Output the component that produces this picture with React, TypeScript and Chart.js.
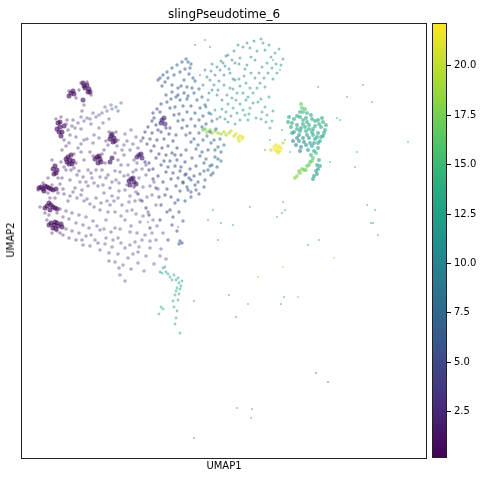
import React, { useEffect, useRef } from 'react';
import { Chart, registerables } from 'chart.js';

Chart.register(...registerables);

// UMAP1 / UMAP2 coordinates (arbitrary embedding units) and slingPseudotime_6 value
type Cell = [number, number, number];

const VMIN = 0.16;
const VMAX = 22.16;
const colorbarTicks = [2.5, 5.0, 7.5, 10.0, 12.5, 15.0, 17.5, 20.0];

// dense purple cores of the left fan
const purpleCores: Cell[] = [
  [50, 366, 1.2], [53, 365, 1.2], [63, 373, 1.0], [64, 371, 1.0], [68, 370, 1.2], [67, 367, 1.2], [62, 359, 1.8],
  [48, 363, 1.2], [52, 368, 1.2], [62, 376, 1.0], [66, 374, 1.0], [69, 367, 1.3],
  [37, 336, 1.0], [39, 332, 1.0], [38, 327, 1.0], [40, 323, 1.0], [43, 333, 1.5], [36, 330, 1.0], [41, 327, 1.0], [39, 337, 1.0],
  [47, 302, 0.8], [49, 299, 0.8], [51, 295, 1.0], [46, 297, 1.0], [45, 300, 0.9], [50, 304, 0.9], [52, 298, 1.0], [48, 295, 1.0],
  [34, 293, 0.9], [36, 289, 1.0], [33, 285, 1.0], [32, 290, 0.9], [35, 286, 1.0],
  [20, 272, 0.8], [24, 273, 0.8], [28, 271, 0.9], [23, 268, 0.9], [32, 269, 1.2],
  [18, 271, 0.8], [22, 270, 0.8], [26, 272, 0.9], [30, 270, 1.0], [35, 270, 1.2],
  [26, 253, 0.8], [30, 254, 0.8], [34, 251, 1.0], [29, 249, 1.0], [24, 251, 0.8], [28, 256, 0.8], [32, 252, 0.9], [36, 250, 1.1],
  [30, 236, 0.8], [34, 237, 0.8], [37, 233, 0.9], [32, 231, 0.9], [41, 232, 1.2],
  [28, 234, 0.8], [33, 234, 0.8], [36, 236, 0.9], [35, 230, 1.0], [40, 235, 1.1],
  [76, 302, 1.0], [79, 300, 1.0], [77, 296, 1.2], [74, 300, 1.0], [78, 303, 1.0], [80, 297, 1.2],
  [90, 323, 1.2], [93, 321, 1.2], [92, 317, 1.4], [91, 301, 1.5], [89, 297, 1.6], [89, 320, 1.2], [91, 325, 1.2], [94, 318, 1.3],
  [118, 304, 2.0], [121, 301, 2.2], [116, 302, 2.0], [120, 305, 2.0],
  [110, 280, 1.5], [113, 277, 1.5], [109, 274, 1.8], [108, 278, 1.5], [112, 281, 1.5], [115, 275, 1.8],
  [141, 339, 3.0], [144, 335, 3.2], [140, 336, 3.0], [143, 341, 3.0],
];

// diffuse purple body of the fan
const purpleBody: Cell[] = [
  [45, 335, 2.0], [51, 333, 2.5], [57, 336, 3.0], [63, 338, 3.5], [69, 340, 4.0], [75, 342, 4.5], [81, 346, 5.0],
  [86, 348, 5.0], [91, 350, 5.5], [95, 352, 5.5], [78, 344, 4.5], [66, 341, 4.0], [54, 331, 2.5], [47, 329, 2.0],
  [43, 319, 2.0], [49, 324, 2.5], [57, 311, 2.5], [60, 307, 2.5],
  [53, 291, 2.0], [56, 284, 2.0], [59, 277, 2.5], [45, 289, 2.0], [41, 281, 2.0], [37, 281, 2.0], [39, 275, 2.0],
  [37, 266, 2.0], [43, 265, 2.0], [49, 263, 2.5], [56, 261, 2.5], [63, 258, 2.5], [69, 255, 3.0],
  [39, 250, 2.0], [45, 248, 2.0], [51, 246, 2.5], [58, 244, 2.5], [65, 242, 3.0], [72, 238, 3.0],
  [45, 230, 2.0], [51, 228, 2.5], [58, 226, 2.5], [65, 223, 3.0], [39, 226, 1.8], [31, 226, 1.5],
  [49, 279, 2.2], [54, 271, 2.2], [61, 269, 2.5], [67, 273, 2.5], [71, 281, 2.5], [75, 289, 2.5], [67, 289, 2.2],
  [63, 299, 2.2], [69, 307, 2.5], [81, 289, 2.5], [85, 281, 2.5], [77, 273, 2.8], [83, 266, 2.8], [89, 271, 2.8],
  [95, 279, 2.8], [99, 287, 2.8], [97, 299, 2.5], [101, 309, 2.8], [107, 294, 3.0], [104, 269, 3.0], [97, 261, 3.0],
  [89, 254, 3.0], [79, 249, 3.0], [75, 261, 2.8], [85, 239, 3.2], [94, 247, 3.2], [101, 254, 3.2], [109, 263, 3.2],
  [115, 267, 3.2], [119, 259, 3.5], [111, 249, 3.5], [104, 239, 3.5], [94, 231, 3.2], [79, 229, 3.0], [74, 219, 3.2],
  [85, 221, 3.2], [97, 221, 3.5], [109, 227, 3.5], [119, 237, 3.8], [127, 247, 3.8], [124, 224, 3.8], [114, 217, 3.5],
  [104, 211, 3.5], [91, 212, 3.2], [79, 209, 3.2], [69, 213, 3.0], [61, 219, 3.0], [117, 207, 3.8], [129, 211, 4.0],
  [135, 219, 4.0], [139, 203, 4.2], [107, 201, 3.5], [99, 184, 3.8], [102, 194, 3.8], [125, 203, 4.0],
  [83, 309, 2.0], [87, 314, 2.2], [97, 319, 2.5], [103, 314, 3.0], [109, 309, 3.0], [113, 299, 2.5], [115, 289, 2.8],
  [107, 284, 2.8], [125, 284, 3.0], [129, 273, 3.5], [131, 264, 3.5], [135, 254, 4.0], [125, 294, 3.0],
  [17, 269, 1.5], [19, 252, 1.5], [26, 239, 1.5], [29, 261, 1.8], [34, 261, 2.0], [27, 281, 2.0], [31, 299, 2.0],
  [41, 309, 2.0], [45, 313, 2.0], [73, 324, 3.0], [63, 319, 3.0], [78, 331, 4.0],
  [22, 276, 1.5], [27, 266, 1.8], [31, 274, 1.6], [42, 270, 2.0], [47, 258, 2.3], [52, 267, 2.3], [60, 264, 2.5],
  [66, 260, 2.7], [73, 252, 2.8], [80, 256, 3.0], [87, 247, 3.0], [93, 258, 3.0], [100, 243, 3.3], [106, 248, 3.4],
  [24, 246, 1.6], [28, 244, 1.8], [36, 246, 2.0], [42, 242, 2.2], [48, 240, 2.4], [55, 236, 2.6], [62, 234, 2.8],
  [68, 231, 3.0], [76, 233, 3.0], [83, 230, 3.2], [90, 227, 3.2], [99, 230, 3.4], [110, 233, 3.5], [116, 226, 3.6],
  [36, 228, 1.6], [42, 224, 1.9], [48, 221, 2.2], [55, 219, 2.5], [62, 214, 2.8], [70, 224, 3.0], [77, 216, 3.0],
  [84, 215, 3.2], [92, 219, 3.3], [100, 216, 3.4], [109, 214, 3.6], [118, 212, 3.8], [97, 205, 3.6], [88, 206, 3.4],
  [112, 205, 3.8], [121, 219, 3.8], [131, 226, 4.0], [136, 233, 4.0], [142, 226, 4.2], [132, 239, 4.0], [122, 243, 3.8],
  [115, 245, 3.6],
  [40, 297, 1.5], [43, 292, 1.8], [50, 289, 2.0], [55, 296, 2.0], [58, 288, 2.2], [62, 282, 2.3], [65, 277, 2.5],
  [70, 286, 2.5], [73, 276, 2.6], [79, 282, 2.7], [82, 274, 2.8], [87, 284, 2.8], [91, 277, 2.9], [94, 288, 2.8],
  [98, 276, 3.0], [103, 283, 3.0], [100, 294, 2.8], [106, 274, 3.2], [112, 287, 3.2], [118, 281, 3.3], [121, 290, 3.4],
  [116, 296, 3.0], [122, 272, 3.5], [126, 262, 3.6], [133, 277, 3.5], [137, 270, 3.8], [108, 257, 3.4], [114, 258, 3.4],
  [98, 268, 3.1], [91, 263, 3.0], [86, 258, 3.0],
  [72, 303, 1.8], [81, 305, 1.8], [84, 296, 2.0], [85, 318, 2.1], [88, 327, 1.6], [95, 327, 1.8], [96, 313, 2.2],
  [94, 306, 2.3], [103, 304, 2.5], [106, 318, 2.8], [112, 315, 3.0], [117, 311, 3.0], [120, 318, 3.2], [115, 322, 3.2],
  [110, 329, 3.5], [104, 325, 3.3],
  [35, 340, 1.2], [40, 342, 1.3], [46, 339, 1.8], [52, 339, 2.5], [60, 342, 3.2], [72, 346, 4.2], [84, 352, 4.8],
  [90, 354, 5.0], [100, 356, 5.5], [97, 348, 5.2], [70, 335, 3.3], [60, 330, 2.5], [55, 322, 2.5], [48, 316, 2.2],
  [53, 305, 2.2], [60, 315, 2.5], [66, 320, 2.8], [72, 316, 2.8], [78, 321, 3.0], [82, 336, 3.5], [88, 340, 3.8],
  [58, 369, 1.5], [60, 376, 1.2], [66, 377, 1.2], [70, 364, 1.5], [63, 354, 2.0], [55, 361, 1.6], [48, 368, 1.3],
  [61, 348, 2.2],
  [110, 190, 3.8], [117, 196, 3.8], [123, 188, 4.0], [104, 178, 3.8], [98, 191, 3.6], [94, 197, 3.5], [133, 195, 4.2],
  [140, 210, 4.2], [145, 200, 4.4], [129, 218, 4.0], [88, 198, 3.4],
];

// radial blue streaks and the loop at their top
const blueStreaks: Cell[] = [
  [127, 332, 4.5], [131, 326, 4.5], [136, 319, 5.0], [141, 311, 5.0], [145, 304, 5.0], [149, 298, 5.5], [154, 293, 5.5],
  [159, 288, 6.0], [164, 284, 6.0], [168, 281, 6.0],
  [122, 321, 4.0], [126, 315, 4.5], [130, 308, 4.5], [135, 301, 5.0], [140, 294, 5.0], [145, 287, 5.0], [150, 280, 5.5],
  [155, 273, 5.5], [159, 268, 5.5],
  [124, 297, 3.0], [128, 289, 3.5], [132, 280, 4.0], [135, 271, 4.0], [138, 262, 4.5], [140, 254, 4.5],
  [113, 272, 2.5], [117, 265, 3.0], [121, 258, 3.5], [125, 251, 3.5], [128, 244, 4.0],
  [145, 331, 3.5], [148, 325, 4.0], [152, 318, 4.5], [156, 311, 4.5], [160, 304, 5.0], [164, 297, 5.0], [169, 290, 5.5],
  [173, 283, 5.5], [177, 277, 6.0],
  [146, 357, 6.0], [149, 351, 6.0], [153, 344, 6.0], [157, 338, 6.0], [161, 331, 6.5], [165, 324, 6.5], [170, 317, 6.5],
  [175, 310, 6.5], [179, 303, 7.0], [183, 296, 7.0], [187, 289, 7.0],
  [159, 359, 6.0], [162, 353, 6.0], [166, 347, 6.5], [170, 340, 6.5], [174, 333, 6.5], [178, 326, 7.0], [182, 319, 7.0],
  [171, 371, 6.5], [173, 366, 6.5], [176, 359, 7.0], [179, 351, 7.0], [182, 343, 7.0], [185, 335, 7.0], [189, 327, 7.5],
  [193, 319, 7.5], [197, 312, 7.5], [200, 307, 7.5],
  [139, 381, 6.5], [142, 384, 6.5], [146, 387, 6.5], [151, 391, 7.0], [156, 394, 7.0], [161, 397, 7.0], [165, 400, 7.0],
  [167, 397, 7.0], [169, 391, 7.0], [168, 385, 7.0], [137, 379, 6.0], [144, 377, 6.5], [151, 374, 6.5], [157, 371, 6.5],
  [163, 379, 7.0],
  [139, 347, 5.0], [149, 331, 5.0], [155, 324, 5.5], [165, 309, 6.0], [171, 301, 6.0], [175, 293, 6.0], [167, 269, 6.0],
  [157, 259, 5.5], [149, 249, 5.0], [139, 239, 4.5], [151, 234, 5.5], [144, 264, 5.0], [175, 269, 6.5], [184, 279, 7.0],
  [191, 294, 7.0], [187, 309, 7.0], [194, 302, 7.5], [157, 364, 6.0], [151, 367, 6.0], [167, 363, 6.5], [133, 341, 5.0],
  [137, 329, 5.0], [154, 304, 5.5], [162, 277, 6.0], [147, 219, 5.0], [129, 231, 4.5],
  [159, 218, 6.0], [161, 216, 6.0], [158, 215, 6.0],
  [124, 327, 4.2], [129, 320, 4.5], [133, 313, 4.6], [138, 305, 4.8], [143, 298, 5.0], [147, 292, 5.2], [152, 286, 5.4],
  [157, 281, 5.6], [162, 276, 5.8], [166, 272, 6.0], [170, 267, 6.2],
  [131, 338, 4.8], [135, 334, 5.0], [140, 327, 5.0], [143, 320, 5.2], [147, 313, 5.3], [151, 306, 5.5], [156, 299, 5.6],
  [160, 292, 5.8], [165, 285, 6.0], [170, 279, 6.2], [174, 274, 6.4],
  [150, 360, 6.0], [154, 352, 6.0], [158, 345, 6.2], [162, 339, 6.2], [166, 333, 6.4], [169, 326, 6.5], [173, 320, 6.6],
  [177, 314, 6.8], [181, 307, 7.0], [185, 300, 7.0], [189, 293, 7.2], [192, 286, 7.2],
  [163, 366, 6.3], [166, 360, 6.3], [170, 353, 6.6], [174, 346, 6.6], [178, 339, 6.8], [181, 332, 7.0], [186, 323, 7.2],
  [190, 316, 7.3], [194, 309, 7.5], [197, 300, 7.5],
  [174, 378, 6.8], [178, 370, 7.0], [181, 362, 7.0], [184, 354, 7.2], [188, 346, 7.3], [191, 338, 7.5], [195, 330, 7.6],
  [199, 320, 7.8], [203, 314, 8.0],
  [141, 373, 6.2], [147, 381, 6.4], [153, 384, 6.6], [159, 387, 6.8], [164, 390, 7.0], [170, 395, 7.2], [160, 373, 6.6],
  [166, 372, 6.8], [172, 381, 7.0], [155, 362, 6.3], [145, 364, 6.0], [140, 355, 5.6], [136, 350, 5.3], [132, 346, 5.0],
  [128, 296, 4.4], [132, 290, 4.6], [137, 283, 4.8], [142, 277, 5.0], [146, 270, 5.2], [150, 262, 5.4], [154, 256, 5.5],
  [146, 247, 5.2], [152, 242, 5.4], [158, 247, 5.8], [164, 258, 6.0], [170, 262, 6.2], [178, 265, 6.5], [183, 272, 6.8],
  [156, 228, 5.6], [162, 238, 5.8],
  [200, 298, 7.6], [196, 292, 7.4], [190, 284, 7.2], [183, 288, 7.0], [179, 285, 6.8],
];

// teal cloud above the streaks
const tealCloud: Cell[] = [
  [189, 379, 9.0], [194, 384, 9.5], [199, 389, 9.5], [204, 393, 10.0], [209, 386, 10.0], [214, 379, 10.0], [219, 373, 10.0],
  [216, 366, 10.5], [211, 361, 10.0], [207, 355, 10.0], [201, 359, 9.5], [196, 364, 9.5], [191, 369, 9.0], [187, 359, 9.0],
  [194, 349, 10.0], [199, 342, 10.5], [205, 347, 10.5], [212, 351, 11.0], [219, 355, 11.0], [225, 359, 11.0],
  [229, 351, 11.5], [224, 344, 11.5], [219, 339, 12.0], [214, 335, 12.0], [207, 337, 11.0], [227, 339, 12.0],
  [232, 366, 10.5], [236, 371, 10.5], [239, 376, 10.5], [243, 381, 10.5], [247, 386, 10.5], [251, 391, 11.0],
  [255, 395, 11.0], [229, 371, 10.0], [223, 383, 10.0], [226, 394, 10.5], [219, 401, 10.0], [211, 399, 9.5],
  [205, 403, 9.5], [191, 395, 9.0], [184, 389, 8.5], [182, 374, 8.5], [222, 412, 10.0], [229, 411, 10.5],
  [242, 416, 10.5], [244, 409, 10.5], [202, 396, 10.0], [234, 399, 10.5], [237, 357, 11.0], [241, 347, 11.5],
  [235, 341, 11.5], [245, 337, 12.0], [249, 331, 12.0], [209, 371, 10.0], [203, 374, 9.5], [197, 369, 9.5],
  [215, 359, 10.5],
  [186, 382, 8.8], [190, 388, 9.0], [196, 392, 9.3], [200, 398, 9.6], [207, 404, 9.8], [213, 408, 10.0], [218, 395, 10.0],
  [224, 390, 10.2], [230, 386, 10.3], [234, 381, 10.4], [238, 386, 10.5], [241, 392, 10.6], [246, 396, 10.8],
  [250, 402, 11.0], [254, 406, 11.0], [248, 414, 10.8], [236, 408, 10.5], [230, 402, 10.4], [214, 396, 10.0],
  [208, 390, 9.8], [203, 384, 9.6], [198, 378, 9.4], [193, 374, 9.2], [188, 366, 9.0], [185, 352, 9.2], [190, 345, 9.6],
  [196, 340, 10.0], [201, 350, 10.0], [206, 364, 9.8], [212, 370, 10.0], [218, 380, 10.2], [225, 376, 10.3],
  [222, 366, 10.4], [227, 362, 10.6], [232, 356, 10.8], [228, 345, 11.2], [222, 349, 11.0], [216, 346, 10.8],
  [210, 343, 10.6], [204, 340, 10.6], [240, 360, 11.0], [244, 352, 11.3], [240, 340, 11.6], [246, 344, 11.8],
  [251, 338, 12.0], [252, 348, 11.6], [248, 362, 11.2], [244, 372, 10.8], [252, 380, 10.8], [256, 386, 11.0],
  [260, 394, 11.2], [262, 400, 11.3], [258, 410, 11.0], [240, 420, 10.4], [233, 418, 10.3], [226, 416, 10.2],
  [217, 414, 10.0], [212, 380, 10.0],
];

// yellow-green streak and the yellow clump
const yellowCells: Cell[] = [
  [182, 329, 17.0], [186, 327, 18.0], [191, 326, 18.5], [197, 326, 19.0], [203, 327, 19.5], [208, 326, 20.0],
  [213, 323, 20.5], [217, 321, 21.0], [221, 320, 21.5], [219, 323, 21.0],
  [184, 330, 17.5], [189, 329, 18.0], [194, 328, 18.5], [200, 325, 19.0], [205, 324, 19.5], [210, 328, 20.0],
  [215, 325, 20.5], [218, 318, 21.0], [222, 322, 21.5],
  [255, 314, 21.5], [257, 311, 22.0], [259, 308, 21.5], [256, 308, 21.5], [262, 316, 20.0], [250, 309, 20.0],
  [253, 312, 21.5], [258, 313, 22.0], [254, 309, 21.8], [260, 311, 21.6], [257, 306, 21.5],
];

// separate cluster on the right
const rightCluster: Cell[] = [
  [267, 337, 13.0], [273, 340, 13.0], [279, 342, 13.0], [285, 341, 13.0], [291, 340, 13.0], [297, 339, 13.0],
  [302, 337, 13.5], [270, 332, 13.0], [276, 334, 12.5], [282, 335, 13.0], [288, 334, 13.0], [294, 333, 13.0],
  [300, 332, 13.0], [304, 329, 13.0], [273, 327, 12.5], [279, 328, 12.5], [285, 328, 13.0], [291, 327, 13.0],
  [297, 326, 13.0], [302, 323, 13.0], [276, 321, 10.0], [282, 321, 11.0], [288, 321, 12.0], [294, 320, 13.0],
  [299, 318, 13.0], [275, 314, 9.0], [280, 312, 9.5], [285, 314, 10.5], [291, 313, 12.0], [297, 311, 13.0],
  [281, 351, 16.0], [282, 347, 15.0], [280, 355, 16.5],
  [295, 306, 15.0], [292, 301, 16.0], [289, 297, 16.5], [286, 293, 17.0], [283, 289, 17.0], [279, 286, 17.5],
  [276, 283, 18.0],
  [296, 294, 12.5], [295, 288, 12.5], [293, 283, 12.0], [298, 299, 13.0],
  [268, 342, 13.0], [271, 336, 13.0], [276, 343, 13.0], [282, 339, 13.2], [286, 337, 13.0], [290, 344, 13.0],
  [294, 338, 13.2], [298, 335, 13.3], [301, 341, 13.2], [305, 334, 13.3], [303, 326, 13.2], [300, 322, 13.2],
  [296, 322, 13.0], [292, 330, 13.0], [288, 330, 13.0], [284, 332, 13.0], [280, 331, 12.8], [276, 330, 12.6],
  [271, 326, 12.5], [278, 324, 11.5], [286, 324, 12.2], [292, 324, 12.8], [297, 316, 13.0], [293, 316, 12.6],
  [289, 316, 12.0], [283, 317, 10.8], [278, 318, 9.8], [272, 318, 9.2], [279, 308, 9.2], [287, 309, 11.5],
  [293, 308, 13.0], [290, 304, 14.0], [284, 350, 15.5], [279, 347, 14.5], [286, 346, 14.0], [291, 298, 16.5],
  [288, 294, 16.8], [285, 289, 17.2], [281, 290, 17.2], [278, 288, 17.6], [274, 281, 18.2], [299, 293, 12.5],
  [297, 290, 12.6], [296, 285, 12.3], [292, 280, 12.0],
];

// small teal group below the fan
const lowerTeal: Cell[] = [
  [142, 191, 12.5], [145, 187, 12.5], [139, 187, 13.0], [149, 182, 12.5], [155, 179, 12.0], [158, 176, 12.0],
  [160, 173, 12.5], [156, 171, 12.5], [154, 164, 13.0], [157, 159, 12.5], [153, 152, 13.0], [155, 141, 13.0],
  [159, 126, 13.0], [140, 152, 13.0],
  [141, 186, 12.5], [144, 192, 12.6], [147, 185, 12.6], [151, 179, 12.4], [153, 184, 12.5], [157, 181, 12.2],
  [161, 178, 12.0], [159, 170, 12.4], [158, 165, 12.8], [155, 168, 12.7], [152, 158, 13.0], [156, 148, 13.0],
  [154, 135, 13.0], [142, 150, 13.0], [138, 145, 13.2],
];

// isolated cells
const sparseCells: Cell[] = [
  [127, 237, 5.0], [157, 232, 8.0], [197, 219, 9.0], [187, 239, 10.0], [200, 236, 10.0], [212, 234, 11.0],
  [192, 249, 10.0], [229, 252, 12.0], [173, 158, 8.0], [208, 164, 11.0], [215, 142, 9.0], [227, 155, 12.0],
  [260, 155, 11.0], [263, 162, 11.0], [277, 162, 17.0], [237, 182, 18.0], [262, 192, 19.0], [287, 214, 12.0],
  [298, 219, 13.0], [313, 201, 19.0], [350, 236, 12.0], [357, 224, 12.0], [295, 86, 7.0], [307, 77, 7.0],
  [216, 51, 11.0], [231, 50, 11.0], [230, 41, 12.0], [173, 21, 12.0], [262, 257, 11.0], [264, 249, 11.0],
  [261, 246, 11.0], [256, 242, 12.0], [346, 254, 11.0], [354, 249, 11.0], [352, 236, 11.0], [297, 372, 11.0],
  [326, 362, 12.0], [342, 374, 12.0], [351, 357, 12.0], [319, 339, 13.0], [316, 341, 13.0], [336, 307, 13.0],
  [309, 297, 13.0], [334, 292, 12.0], [387, 317, 12.0], [259, 389, 11.0], [252, 399, 11.0], [179, 384, 8.0],
  [189, 412, 9.0], [174, 414, 9.0], [184, 419, 9.0], [264, 319, 12.0], [261, 329, 12.0], [269, 307, 13.0],
  [249, 319, 14.0], [244, 309, 12.0],
];

const viridis = ['#440154', '#472d7b', '#3b528b', '#2c728e', '#21918c', '#28ae80', '#5ec962', '#addc30', '#fde725'];

const hexRgb = (h: string) => [1, 3, 5].map(i => parseInt(h.slice(i, i + 2), 16));

const valueColor = (v: number, alpha: number) => {
  const t = Math.min(1, Math.max(0, (v - VMIN) / (VMAX - VMIN))) * (viridis.length - 1);
  const i = Math.min(viridis.length - 2, Math.floor(t));
  const f = t - i;
  const a = hexRgb(viridis[i]);
  const b = hexRgb(viridis[i + 1]);
  const c = a.map((x, k) => Math.round(x + (b[k] - x) * f));
  return `rgba(${c[0]}, ${c[1]}, ${c[2]}, ${alpha})`;
};

const makeSet = (cells: Cell[], radius: number, alpha: number) => ({
  data: cells.map(([x, y]) => ({ x, y })),
  pointRadius: radius,
  pointBorderWidth: 0,
  pointBackgroundColor: cells.map(c => valueColor(c[2], alpha)),
  pointHoverRadius: radius,
});

const framePlugin = {
  id: 'frame',
  afterDatasetsDraw(chart: any) {
    const { ctx, chartArea } = chart;
    ctx.save();
    ctx.strokeStyle = '#222';
    ctx.lineWidth = 1;
    ctx.strokeRect(chartArea.left + 0.5, chartArea.top + 0.5, chartArea.right - chartArea.left - 1, chartArea.bottom - chartArea.top - 1);
    ctx.restore();
  },
};

const UmapChart: React.FC = () => {
  const canvasRef = useRef<HTMLCanvasElement>(null);
  const chartRef = useRef<Chart | null>(null);

  useEffect(() => {
    if (!canvasRef.current) return;
    if (chartRef.current) chartRef.current.destroy();

    chartRef.current = new Chart(canvasRef.current, {
      type: 'scatter',
      data: {
        datasets: [
          makeSet(sparseCells, 1.0, 0.5),
          makeSet(purpleBody, 1.8, 0.4),
          makeSet(blueStreaks, 1.7, 0.55),
          makeSet(tealCloud, 1.5, 0.5),
          makeSet(lowerTeal, 1.4, 0.5),
          makeSet(rightCluster, 2.0, 0.6),
          makeSet(yellowCells, 1.8, 0.65),
          makeSet(purpleCores, 2.5, 0.65),
        ] as any,
      },
      options: {
        responsive: true,
        maintainAspectRatio: false,
        animation: false,
        layout: { padding: { left: 21, top: 23, right: 13, bottom: 20 } },
        plugins: { legend: { display: false }, tooltip: { enabled: false } },
        scales: {
          x: { type: 'linear', display: false, min: 0, max: 406 },
          y: { type: 'linear', display: false, min: 0, max: 436 },
        },
      },
      plugins: [framePlugin],
    });

    return () => {
      if (chartRef.current) {
        chartRef.current.destroy();
        chartRef.current = null;
      }
    };
  }, []);

  return <canvas ref={canvasRef}></canvas>;
};

const Colorbar: React.FC = () => {
  const canvasRef = useRef<HTMLCanvasElement>(null);
  const chartRef = useRef<Chart | null>(null);

  useEffect(() => {
    if (!canvasRef.current) return;
    if (chartRef.current) chartRef.current.destroy();

    chartRef.current = new Chart(canvasRef.current, {
      type: 'bar',
      data: {
        labels: ['slingPseudotime_6'],
        datasets: [
          {
            data: [[VMIN, VMAX]] as any,
            barPercentage: 1,
            categoryPercentage: 1,
            borderWidth: 0,
            backgroundColor: (context: any) => {
              const area = context.chart.chartArea;
              if (!area) return viridis[4];
              const g = context.chart.ctx.createLinearGradient(0, area.bottom, 0, area.top);
              viridis.forEach((c, i) => g.addColorStop(i / (viridis.length - 1), c));
              return g;
            },
          },
        ],
      },
      options: {
        responsive: true,
        maintainAspectRatio: false,
        animation: false,
        layout: { padding: { left: 12, top: 23, right: 0, bottom: 21 } },
        plugins: { legend: { display: false }, tooltip: { enabled: false } },
        scales: {
          x: { display: false },
          y: {
            position: 'right',
            min: VMIN,
            max: VMAX,
            afterFit: (scale: any) => {
              scale.width = 35;
            },
            afterBuildTicks: (scale: any) => {
              scale.ticks = colorbarTicks.map(v => ({ value: v }));
            },
            border: { display: false },
            grid: { drawOnChartArea: false, drawTicks: true, tickLength: 4, color: '#000' },
            ticks: {
              padding: 3,
              color: '#000',
              font: { family: 'DejaVu Sans', size: 10 },
              callback: (v: any) => Number(v).toFixed(1),
            },
          },
        },
      },
      plugins: [framePlugin],
    });

    return () => {
      if (chartRef.current) {
        chartRef.current.destroy();
        chartRef.current = null;
      }
    };
  }, []);

  return <canvas ref={canvasRef}></canvas>;
};

const textStyle: React.CSSProperties = {
  position: 'absolute',
  fontFamily: 'DejaVu Sans, sans-serif',
  color: '#000',
  whiteSpace: 'nowrap',
  transform: 'translate(-50%, -50%)',
  lineHeight: 1,
};

export default function App() {
  return (
    <div style={{ position: 'absolute', left: 0, top: 0, width: 482, height: 479, background: '#fff' }}>
      <div style={{ position: 'absolute', left: 0, top: 0, width: 440, height: 479 }}>
        <UmapChart />
      </div>
      <div style={{ position: 'absolute', left: 420, top: 0, width: 62, height: 479 }}>
        <Colorbar />
      </div>
      <div style={{ ...textStyle, left: 224, top: 14, fontSize: 12 }}>slingPseudotime_6</div>
      <div style={{ ...textStyle, left: 224, top: 466, fontSize: 10 }}>UMAP1</div>
      <div style={{ ...textStyle, left: 11, top: 240, fontSize: 10, transform: 'translate(-50%, -50%) rotate(-90deg)' }}>UMAP2</div>
    </div>
  );
}
